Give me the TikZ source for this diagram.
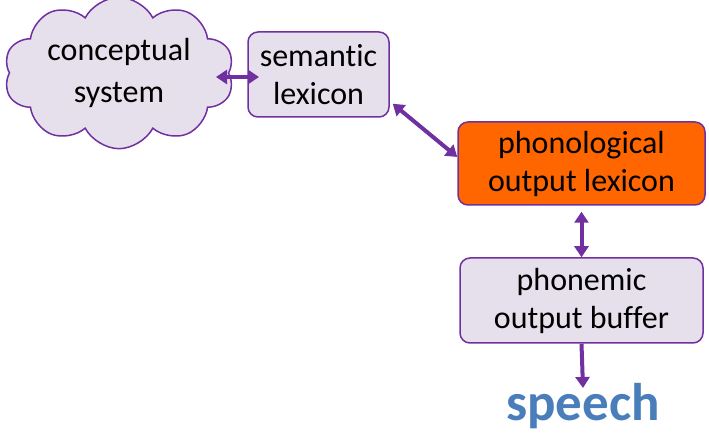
\documentclass[tikz,border=0pt]{standalone}
\usepackage{fontspec}
\setmainfont{Carlito}[Ligatures=NoCommon]
\usetikzlibrary{shapes.symbols,arrows.meta}
\definecolor{pline}{RGB}{112,48,160}
\definecolor{pfill}{RGB}{230,224,236}
\definecolor{porange}{RGB}{255,102,0}
\definecolor{speechblue}{RGB}{74,126,187}
\tikzset{
  x=1pt,y=-1pt,
  box/.style={draw=pline,line width=1.5pt,rounded corners=10pt,fill=pfill,align=center,
    font=\fontsize{32}{38}\selectfont,inner sep=0pt},
  conn/.style={draw=pline,line width=4pt,{Triangle[length=11pt,width=14pt]}-{Triangle[length=11pt,width=14pt]}},
  conn1/.style={draw=pline,line width=4pt,-{Triangle[length=11pt,width=14pt]}}
}
\begin{document}
\begin{tikzpicture}
\useasboundingbox (0,0) rectangle (709,435);
\node[cloud,cloud puffs=10,cloud puff arc=125,aspect=1.7,draw=pline,line width=1.5pt,fill=pfill,
  minimum width=230pt,minimum height=135pt,inner sep=0pt,align=center,
  font=\fontsize{32}{42}\selectfont] (cs) at (119,73) {conceptual\\system};
\node[box,minimum width=141pt,minimum height=85pt] (sl) at (318.5,74.5) {semantic\\lexicon};
\node[box,fill=porange,minimum width=247pt,minimum height=83pt] (pol) at (581.5,163.5) {phonological\\output lexicon};
\node[box,minimum width=243pt,minimum height=85pt] (pob) at (581.5,300.5) {phonemic\\output buffer};
\node[font=\fontsize{53}{53}\selectfont\bfseries,text=speechblue,inner sep=0pt,anchor=base] (sp) at (583,420) {speech};
\coordinate (sptop) at (583,388);
\coordinate (cstip) at (216,77);
\coordinate (sltip) at (259,77);
\draw[conn] (cstip) -- (sltip);
\draw[conn] (sl.south east) ++(3,-14) coordinate (a) (a) -- (pol.north west |- 0,157) ;
\draw[conn] (pol.south) ++(0,6) -- (pob.north);
\draw[conn1] (pob.south) -- (sptop);
\end{tikzpicture}
\end{document}
